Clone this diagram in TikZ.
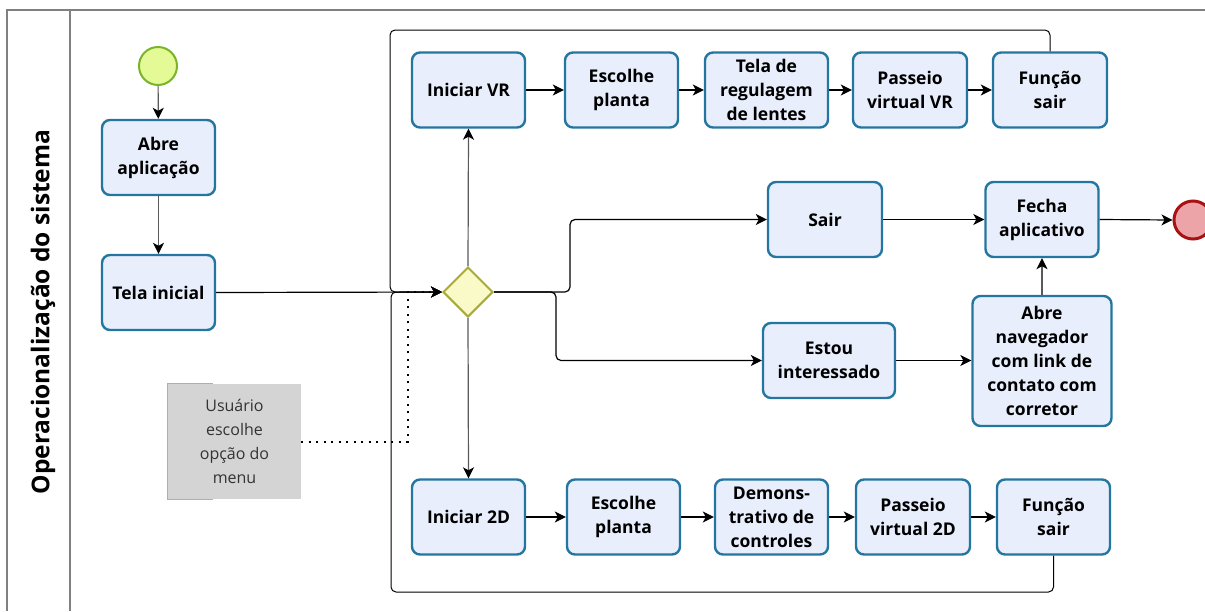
\documentclass[tikz,border=0pt]{standalone}
\usepackage{fontspec}
\setmainfont{Open Sans}
\usetikzlibrary{shapes.geometric,arrows.meta}

\definecolor{taskfill}{RGB}{232,238,251}
\definecolor{taskline}{RGB}{36,118,160}
\definecolor{startfill}{RGB}{228,250,150}
\definecolor{startline}{RGB}{122,180,40}
\definecolor{endfill}{RGB}{236,164,168}
\definecolor{endline}{RGB}{168,18,18}
\definecolor{gwfill}{RGB}{250,250,200}
\definecolor{gwline}{RGB}{170,170,60}
\definecolor{poolline}{RGB}{128,128,128}
\definecolor{notefill}{RGB}{212,212,212}
\definecolor{noteedge}{RGB}{175,175,175}

\tikzset{
  task/.style={draw=taskline, fill=taskfill, line width=2.4pt, rounded corners=8pt,
    minimum width=113pt, minimum height=75pt, inner sep=2pt, align=center,
    font=\bfseries\fontsize{17.5}{24}\selectfont, text=black},
  startev/.style={circle, draw=startline, fill=startfill, line width=2pt, minimum size=38pt, inner sep=0pt},
  endev/.style={circle, draw=endline, fill=endfill, line width=3pt, minimum size=38pt, inner sep=0pt},
  gateway/.style={diamond, draw=gwline, fill=gwfill, line width=2pt, minimum width=50pt,
    minimum height=50pt, inner sep=0pt, aspect=1},
  flow/.style={draw=black, line width=1.2pt, -{Stealth[length=11pt,width=11pt,inset=3pt,color=black]}},
  vflow/.style={flow, draw=black!65},
  loopflow/.style={flow, line width=1pt, rounded corners=5pt},
  assoc/.style={draw=black, line width=2pt, dash pattern=on 2pt off 5.5pt},
  poolln/.style={draw=poolline, line width=2pt},
  notebox/.style={fill=notefill, minimum width=133pt, minimum height=115pt, align=center,
    font=\fontsize{16}{24}\selectfont, text=black!80},
}

\begin{document}
\begin{tikzpicture}[x=1pt,y=-1pt]
\useasboundingbox (0,0) rectangle (1205,611);

% pool and lane header
\draw[poolln] (1205,10) -- (7,10) -- (7,611);
\draw[poolln] (70,10) -- (70,611);
\node[rotate=90, font=\bfseries\fontsize{24.5}{28}\selectfont] (lanelabel) at (43,312) {Operacionalização do sistema};

% events and gateway
\node[startev] (start) at (158,66) {};
\node[endev] (finish) at (1193,220) {};
\node[gateway] (gw) at (468,292) {};

% tasks
\node[task] (abre) at (158.5,157.5) {Abre\\aplicação};
\node[task] (tela) at (158.5,292.5) {Tela inicial};

\node[task] (ivr) at (468.5,90) {Iniciar VR};
\node[task] (esc1) at (621.5,90) {Escolhe\\planta};
\node[task, minimum width=123pt] (reg) at (766.5,90) {Tela de\\regulagem\\de lentes};
\node[task, minimum width=114pt] (pvr) at (910,90) {Passeio\\virtual VR};
\node[task, minimum width=114pt] (fs1) at (1050,90) {Função\\sair};

\node[task, minimum width=114pt] (sair) at (825,219.5) {Sair};
\node[task] (fecha) at (1042,219.5) {Fecha\\aplicativo};
\node[task, minimum width=132pt] (estou) at (829,360.5) {Estou\\interessado};
\node[task, minimum width=139pt, minimum height=130pt] (nav) at (1042,361) {Abre\\navegador\\com link de\\contato com\\corretor};

\node[task] (i2d) at (468.5,517) {Iniciar 2D};
\node[task] (esc2) at (623.5,517) {Escolhe\\planta};
\node[task] (demo) at (771.5,517) {Demons-\\trativo de\\controles};
\node[task, minimum width=114pt] (p2d) at (913,517) {Passeio\\virtual 2D};
\node[task] (fs2) at (1053.5,517) {Função\\sair};

% text annotation
\node[notebox] (note) at (234.5,441.5) {Usuário\\escolhe\\opção do\\menu};
\draw[draw=noteedge, line width=1.2pt] ([xshift=45pt]note.north west) -- (note.north west)
  -- (note.south west) -- ([xshift=45pt]note.south west);

% loop-back corners
\coordinate (looptop) at (390,30);
\coordinate (loopbot) at (391,592);
\coordinate (assocbend) at (408,441.5);

% sequence flows
\draw[vflow] (start) -- (abre);
\draw[vflow] (abre) -- (tela);
\draw[loopflow] (fs1.north) |- (looptop) |- (gw.west);
\draw[loopflow] (fs2.south) |- (loopbot) |- (gw.west);
\draw[flow] (tela.east) -- (gw.west);
\draw[vflow] (gw.north) -- (ivr.south);
\draw[vflow] (gw.south) -- (i2d.north);

\draw[flow] (ivr) -- (esc1);
\draw[flow] (esc1) -- (reg);
\draw[flow] (reg) -- (pvr);
\draw[flow] (pvr) -- (fs1);

\draw[flow] (i2d) -- (esc2);
\draw[flow] (esc2) -- (demo);
\draw[flow] (demo) -- (p2d);
\draw[flow] (p2d) -- (fs2);

\draw[flow, rounded corners=5pt] (gw.east) -- ++(76,0) |- (sair.west);
\draw[flow, rounded corners=5pt] (gw.east) -- ++(62,0) |- (estou.west);
\draw[flow] (sair) -- (fecha);
\draw[flow] (fecha.east) -- (finish.west);
\draw[flow] (estou.east) -- (estou.east -| nav.west);
\draw[vflow] (nav.north) -- (fecha.south);

% association from the annotation
\draw[assoc] (note.east) -- (assocbend) |- ([xshift=-4pt]gw.west);
\end{tikzpicture}
\end{document}
